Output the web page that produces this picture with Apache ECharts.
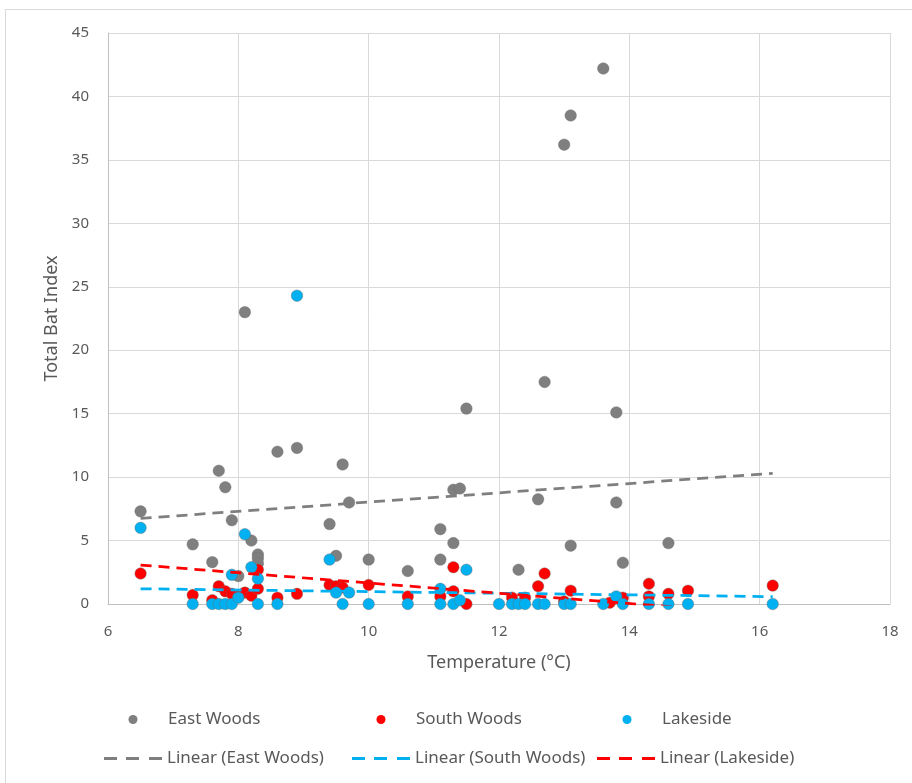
<!DOCTYPE html>
<html>
<head>
<meta charset="utf-8">
<script src="https://cdn.jsdelivr.net/npm/echarts@6/dist/echarts.min.js"></script>
<style>
html, body { margin: 0; padding: 0; background: #fff; }
#chart { width: 912px; height: 783px; }
</style>
</head>
<body>
<div id="chart"></div>
<script>
// temperature / bat index pairs
const eastX = [6.5, 7.3, 7.6, 7.7, 7.8, 7.9, 8.0, 8.1, 8.2, 8.3, 8.3, 8.3, 8.6, 8.9, 9.4, 9.5, 9.6, 9.7, 10.0, 10.6,
  11.1, 11.1, 11.3, 11.3, 11.4, 11.5, 12.3, 12.6, 12.7, 13.0, 13.1, 13.1, 13.6, 13.8, 13.8, 13.9, 14.6];
const eastY = [7.3, 4.7, 3.3, 10.5, 9.2, 6.6, 2.2, 23.0, 5.0, 3.9, 3.6, 3.2, 12.0, 12.3, 6.3, 3.8, 11.0, 8.0, 3.5, 2.6,
  5.9, 3.5, 4.8, 9.0, 9.1, 15.4, 2.7, 8.25, 17.5, 36.2, 38.5, 4.6, 42.2, 15.1, 8.0, 3.25, 4.8];

const southX = [6.5, 7.3, 7.6, 7.7, 7.8, 7.9, 8.0, 8.1, 8.2, 8.3, 8.3, 8.6, 8.9, 9.4, 9.5, 9.6, 10.0, 10.6, 11.1, 11.3,
  11.3, 11.5, 12.2, 12.4, 12.6, 12.7, 13.0, 13.1, 13.7, 13.9, 14.3, 14.3, 14.6, 14.9, 16.2];
const southY = [2.4, 0.7, 0.3, 1.4, 1.0, 0.8, 0.6, 0.9, 0.65, 2.7, 1.2, 0.5, 0.8, 1.5, 1.4, 1.3, 1.5, 0.6, 0.6, 2.9,
  1.0, 0.0, 0.5, 0.5, 1.4, 2.4, 0.2, 1.05, 0.1, 0.5, 1.6, 0.6, 0.8, 1.05, 1.45];

const lakeX = [6.5, 7.3, 7.6, 7.7, 7.8, 7.9, 7.9, 8.0, 8.1, 8.2, 8.3, 8.3, 8.6, 8.9, 9.4, 9.5, 9.6, 9.7, 10.0, 10.6,
  11.1, 11.1, 11.3, 11.4, 11.5, 12.0, 12.2, 12.3, 12.4, 12.6, 12.7, 13.0, 13.1, 13.6, 13.8, 13.9, 14.3, 14.6, 14.9, 16.2];
const lakeY = [6.0, 0, 0, 0, 0, 0, 2.3, 0.5, 5.5, 2.9, 2.0, 0, 0, 24.3, 3.5, 0.9, 0, 0.9, 0, 0,
  1.2, 0, 0, 0.3, 2.7, 0, 0, 0, 0, 0, 0, 0, 0, 0, 0.6, 0, 0, 0, 0, 0];

// trend line end points as drawn
const trendX = [6.5, 16.2];
const eastTrendY = [6.75, 10.3];
const southTrendY = [1.2, 0.58];
const lakeTrendY = [3.07, -0.85];

const GRAY = '#7f7f7f';
const RED = '#ff0000';
const BLUE = '#00b0f0';
const TEXT = '#595959';
const FONT = 'Noto Sans';
const DASH_ICON = 'path://M0,0h13v3h-13z M22,0h13v3h-13z M45,0h13v3h-13z';

function pairs (xs, ys) {
  return xs.map((x, i) => [x, ys[i]]);
}

function dotSeries (name, xs, ys, color) {
  return {
    name: name,
    type: 'scatter',
    symbol: 'circle',
    symbolSize: 11.5,
    itemStyle: { color: color, borderColor: 'rgba(110,110,110,0.55)', borderWidth: 0.8, opacity: 1 },
    data: pairs(xs, ys)
  };
}

function trendSeries (name, ys, color) {
  return {
    name: name,
    type: 'line',
    symbol: 'none',
    clip: true,
    silent: true,
    z: 3,
    lineStyle: { color: color, width: 2.75, type: [11, 7] },
    itemStyle: { color: color },
    data: pairs(trendX, ys)
  };
}

const legendText = { color: TEXT, fontFamily: FONT, fontSize: 17 };

// dot legends: circle centred on x, text pushed to the column's text start
function dotLegend (name, x, color) {
  return {
    data: [{ name: name, icon: 'circle', itemStyle: { color: color, borderWidth: 0 } }],
    left: x - 4.5,
    top: 711,
    padding: 0,
    itemWidth: 9,
    itemHeight: 9,
    selectedMode: false,
    textStyle: Object.assign({ padding: [0, 0, 0, 25.5] }, legendText)
  };
}

function lineLegend (name, x, color) {
  return {
    data: [{ name: name, icon: DASH_ICON, itemStyle: { color: color, borderWidth: 0 } }],
    left: x,
    top: 750,
    padding: 0,
    itemWidth: 58,
    itemHeight: 3,
    selectedMode: false,
    textStyle: legendText
  };
}

const chart = echarts.init(document.getElementById('chart'), null, { renderer: 'canvas' });

chart.setOption({
  animation: false,
  backgroundColor: '#fff',
  graphic: [{
    type: 'rect',
    shape: { x: 5.5, y: 9.5, width: 920, height: 790 },
    style: { fill: null, stroke: '#d9d9d9', lineWidth: 1 },
    silent: true
  }],
  grid: { left: 108, right: 22, top: 33, bottom: 179 },
  legend: [
    dotLegend('East Woods', 133, GRAY),
    dotLegend('South Woods', 381, RED),
    dotLegend('Lakeside', 627, BLUE),
    lineLegend('Linear (East Woods)', 104, GRAY),
    lineLegend('Linear (South Woods)', 352, BLUE),
    lineLegend('Linear (Lakeside)', 597, RED)
  ],
  xAxis: {
    type: 'value',
    min: 6,
    max: 18,
    interval: 2,
    name: 'Temperature (°C)',
    nameLocation: 'middle',
    nameGap: 50,
    nameTextStyle: { color: TEXT, fontFamily: FONT, fontSize: 18 },
    axisLine: { show: true, onZero: false, lineStyle: { color: '#bfbfbf', width: 1 } },
    axisTick: { show: false },
    axisLabel: { color: TEXT, fontFamily: FONT, fontSize: 15, margin: 20 },
    splitLine: { show: true, lineStyle: { color: '#d9d9d9', width: 1 } }
  },
  yAxis: {
    type: 'value',
    min: 0,
    max: 45,
    interval: 5,
    name: 'Total Bat Index',
    nameLocation: 'middle',
    nameGap: 47,
    nameTextStyle: { color: TEXT, fontFamily: FONT, fontSize: 18 },
    axisLine: { show: true, lineStyle: { color: '#bfbfbf', width: 1 } },
    axisTick: { show: false },
    axisLabel: { color: TEXT, fontFamily: FONT, fontSize: 15, margin: 19 },
    splitLine: { show: true, lineStyle: { color: '#d9d9d9', width: 1 } }
  },
  series: [
    dotSeries('East Woods', eastX, eastY, GRAY),
    dotSeries('South Woods', southX, southY, RED),
    dotSeries('Lakeside', lakeX, lakeY, BLUE),
    trendSeries('Linear (East Woods)', eastTrendY, GRAY),
    trendSeries('Linear (South Woods)', southTrendY, BLUE),
    trendSeries('Linear (Lakeside)', lakeTrendY, RED)
  ]
});
</script>
</body>
</html>
